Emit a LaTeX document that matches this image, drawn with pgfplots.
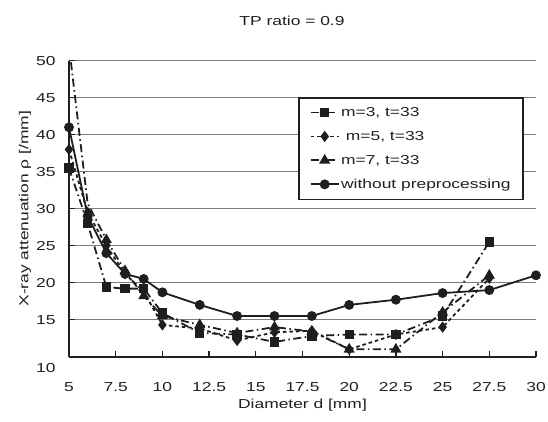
\documentclass[border=0pt]{standalone}
\usepackage{fontspec}
\setmainfont{Liberation Sans}[FakeStretch=1.34]
\usepackage{pgfplots}
\pgfplotsset{compat=1.18}
\definecolor{txt}{RGB}{35,31,32}
\definecolor{gridc}{RGB}{125,125,125}
\definecolor{ln}{RGB}{30,30,30}

\pgfplotstableread{
d    v
5    35.5
6    28
7    19.4
8    19.2
9    19.2
10   15.9
12   13.2
14   13.0
16   12.0
18   12.8
20   13.0
22.5 13.0
25   15.5
27.5 25.5
}\mthree
\pgfplotstableread{
d    v
5    38
6    29.5
7    25
8    21.2
9    18.8
10   14.3
12   13.8
14   12.2
16   13.3
18   13.5
20   11.0
22.5 13.0
25   14.0
27.5 20.6
}\mfive
\pgfplotstableread{
d    v
5    52
6    30.7
7    25.8
8    21.6
9    18.2
10   15.5
12   14.3
14   13.2
16   14.0
18   13.4
20   11.0
22.5 11.0
25   16.0
27.5 21.0
}\mseven
\pgfplotstableread{
d    v
5    41
6    29
7    24
8    21.2
9    20.5
10   18.7
12   17.0
14   15.5
16   15.5
18   15.5
20   17.0
22.5 17.7
25   18.6
27.5 19.0
30   21.0
}\wop

\begin{document}
\begin{tikzpicture}[font=\fontsize{13bp}{15bp}\selectfont, text=txt]
\useasboundingbox (-69bp,-65.3bp) rectangle (479bp,356.7bp);
\begin{axis}[
  at={(0,0)}, anchor=south west,
  scale only axis, width=467bp, height=296bp,
  xmin=5, xmax=30, ymin=10, ymax=50,
  axis x line*=bottom, axis y line*=left,
  axis line style={line width=1.6bp, color=txt},
  xtick={5,7.5,10,12.5,15,17.5,20,22.5,25,27.5,30},
  xticklabels={5,7.5,10,12.5,15,17.5,20,22.5,25,27.5,30},
  ytick={10,15,20,25,30,35,40,45,50},
  yticklabels={\smash{\raisebox{-15.5bp}{10}},15,20,25,30,35,40,45,50},
  ymajorgrids, grid style={line width=0.9bp, color=gridc},
  tick align=inside, major tick length=6bp,
  every tick/.style={line width=1.3bp, color=txt},
  xticklabel style={yshift=-22bp},
  yticklabel style={xshift=-10bp},
  xlabel={Diameter d [mm]},
  ylabel={X-ray attenuation ρ [/mm]},
  xlabel style={at={(axis description cs:0.5,0)}, anchor=center, yshift=-48bp},
  ylabel style={at={(axis description cs:-0.094,0.5)}, anchor=center},
  clip mode=individual,
  legend style={at={(rel axis cs:0.4904,0.8774)}, anchor=north west,
    draw=txt, line width=1.6bp, inner xsep=11bp, inner ysep=8bp,
    row sep=10.3bp, font=\fontsize{13bp}{15bp}\selectfont,
    nodes={inner sep=1.5bp}},
  legend cell align=left,
  legend image code/.code={
    \draw[#1, line width=1.8bp] (0bp,0bp) -- (28bp,0bp);
    \draw[#1, solid, line width=1.8bp] plot coordinates {(14bp,0bp)};
  },
  every axis plot/.append style={line width=1.8bp, color=ln},
]
\addplot[dash pattern=on 8bp off 3.5bp on 1.5bp off 3.5bp, mark=square*, mark size=3.8bp, mark options={solid}] table[x=d,y=v] {\mthree};
\addlegendentry{m=3, t=33}
\addplot[dash pattern=on 3.5bp off 3bp, mark=diamond*, mark size=4.2bp, mark options={solid}] table[x=d,y=v] {\mfive};
\addlegendentry{\ m=5, t=33}
\addplot[forget plot, dash pattern=on 8bp off 3.5bp on 1.5bp off 3.5bp, mark=triangle*, mark size=4.6bp, mark options={solid}, mark indices={2,3,4,5,6,7,8,9,10,11,12,13,14}] table[x=d,y=v] {\mseven};
\addlegendimage{line width=1.8bp, color=ln, dash pattern=on 8bp off 3.5bp on 1.5bp off 3.5bp, mark=triangle*, mark size=4.6bp, mark options={solid}}
\addlegendentry{m=7, t=33}
\addplot[solid, mark=*, mark size=4bp] table[x=d,y=v] {\wop};
\addlegendentry{without preprocessing}
\end{axis}
\node[anchor=center] at (223bp,335.5bp) {TP ratio = 0.9};
\end{tikzpicture}
\end{document}
